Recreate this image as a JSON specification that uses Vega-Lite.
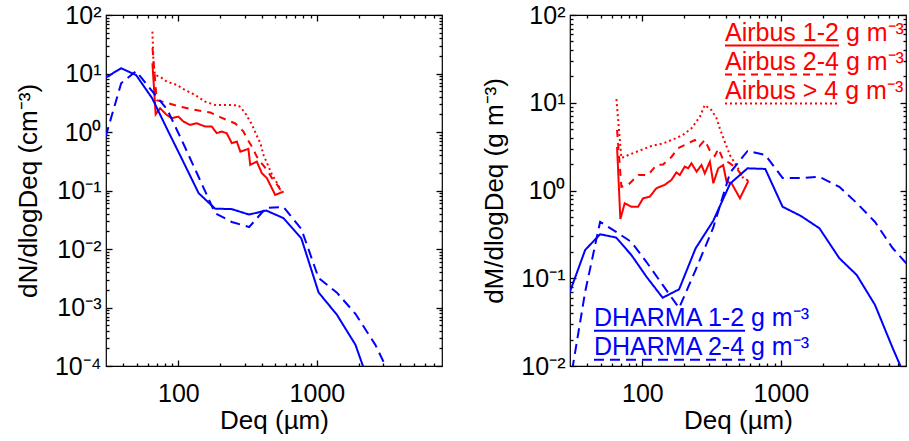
{
  "$schema": "https://vega.github.io/schema/vega-lite/v6.json",
  "padding": {"left": 14, "top": 2, "right": 0, "bottom": 0},
  "background": "white",
  "spacing": 37,
  "config": {
    "font": "Liberation Sans",
    "view": {"stroke": "#000000", "strokeWidth": 1.2},
    "axis": {"grid": false, "domain": false, "ticks": true, "labelFontSize": 25, "titleFontSize": 26, "titleFontWeight": "normal", "labelColor": "#000000", "titleColor": "#000000", "tickColor": "#000000", "tickWidth": 1.3, "tickOpacity": 1, "labelOverlap": false, "labelFlush": false, "labelBound": false, "labelFont": "Liberation Sans", "titleFont": "Liberation Sans"},
    "legend": {"labelFont": "Liberation Sans"}
  },
  "datasets": {
    "leftAirbus": [
      {"D":64.9,"v":15,"s":"Airbus 1-2 g m⁻³"},{"D":68.5,"v":2.01,"s":"Airbus 1-2 g m⁻³"},{"D":73.7,"v":2.55,"s":"Airbus 1-2 g m⁻³"},{"D":82.3,"v":1.96,"s":"Airbus 1-2 g m⁻³"},{"D":89.5,"v":1.72,"s":"Airbus 1-2 g m⁻³"},{"D":100,"v":1.83,"s":"Airbus 1-2 g m⁻³"},{"D":108.7,"v":1.51,"s":"Airbus 1-2 g m⁻³"},{"D":121.5,"v":1.32,"s":"Airbus 1-2 g m⁻³"},{"D":135.6,"v":1.41,"s":"Airbus 1-2 g m⁻³"},{"D":156,"v":1.24,"s":"Airbus 1-2 g m⁻³"},{"D":174,"v":1.24,"s":"Airbus 1-2 g m⁻³"},{"D":189,"v":0.955,"s":"Airbus 1-2 g m⁻³"},{"D":205,"v":1.02,"s":"Airbus 1-2 g m⁻³"},{"D":223,"v":0.955,"s":"Airbus 1-2 g m⁻³"},{"D":243,"v":0.644,"s":"Airbus 1-2 g m⁻³"},{"D":264,"v":0.686,"s":"Airbus 1-2 g m⁻³"},{"D":280,"v":0.462,"s":"Airbus 1-2 g m⁻³"},{"D":320,"v":0.514,"s":"Airbus 1-2 g m⁻³"},{"D":330,"v":0.274,"s":"Airbus 1-2 g m⁻³"},{"D":368,"v":0.312,"s":"Airbus 1-2 g m⁻³"},{"D":400,"v":0.198,"s":"Airbus 1-2 g m⁻³"},{"D":435,"v":0.163,"s":"Airbus 1-2 g m⁻³"},{"D":500,"v":0.084,"s":"Airbus 1-2 g m⁻³"},{"D":575,"v":0.096,"s":"Airbus 1-2 g m⁻³"},
      {"D":65,"v":27,"s":"Airbus 2-4 g m⁻³"},{"D":69.7,"v":3.5,"s":"Airbus 2-4 g m⁻³"},{"D":85,"v":3.1,"s":"Airbus 2-4 g m⁻³"},{"D":100,"v":2.75,"s":"Airbus 2-4 g m⁻³"},{"D":112,"v":2.6,"s":"Airbus 2-4 g m⁻³"},{"D":130,"v":2.4,"s":"Airbus 2-4 g m⁻³"},{"D":150,"v":2.25,"s":"Airbus 2-4 g m⁻³"},{"D":170,"v":2.15,"s":"Airbus 2-4 g m⁻³"},{"D":200,"v":1.8,"s":"Airbus 2-4 g m⁻³"},{"D":223,"v":1.61,"s":"Airbus 2-4 g m⁻³"},{"D":257,"v":1.4,"s":"Airbus 2-4 g m⁻³"},{"D":272,"v":1.24,"s":"Airbus 2-4 g m⁻³"},{"D":295,"v":1.02,"s":"Airbus 2-4 g m⁻³"},{"D":312,"v":0.78,"s":"Airbus 2-4 g m⁻³"},{"D":340,"v":0.56,"s":"Airbus 2-4 g m⁻³"},{"D":368,"v":0.38,"s":"Airbus 2-4 g m⁻³"},{"D":390,"v":0.31,"s":"Airbus 2-4 g m⁻³"},{"D":440,"v":0.22,"s":"Airbus 2-4 g m⁻³"},{"D":473,"v":0.163,"s":"Airbus 2-4 g m⁻³"},{"D":500,"v":0.14,"s":"Airbus 2-4 g m⁻³"},{"D":558,"v":0.095,"s":"Airbus 2-4 g m⁻³"},
      {"D":64.9,"v":52,"s":"Airbus > 4 g m⁻³"},{"D":66,"v":16,"s":"Airbus > 4 g m⁻³"},{"D":67.8,"v":9.4,"s":"Airbus > 4 g m⁻³"},{"D":73.7,"v":8.8,"s":"Airbus > 4 g m⁻³"},{"D":82.3,"v":7.3,"s":"Airbus > 4 g m⁻³"},{"D":97,"v":6.4,"s":"Airbus > 4 g m⁻³"},{"D":112,"v":5.2,"s":"Airbus > 4 g m⁻³"},{"D":132,"v":4.3,"s":"Airbus > 4 g m⁻³"},{"D":156,"v":3.3,"s":"Airbus > 4 g m⁻³"},{"D":184,"v":2.9,"s":"Airbus > 4 g m⁻³"},{"D":230,"v":2.9,"s":"Airbus > 4 g m⁻³"},{"D":272,"v":2.85,"s":"Airbus > 4 g m⁻³"},{"D":300,"v":2.2,"s":"Airbus > 4 g m⁻³"},{"D":320,"v":1.7,"s":"Airbus > 4 g m⁻³"},{"D":339,"v":1.35,"s":"Airbus > 4 g m⁻³"},{"D":365,"v":0.9,"s":"Airbus > 4 g m⁻³"},{"D":390,"v":0.65,"s":"Airbus > 4 g m⁻³"},{"D":412,"v":0.4,"s":"Airbus > 4 g m⁻³"},{"D":440,"v":0.28,"s":"Airbus > 4 g m⁻³"},{"D":473,"v":0.19,"s":"Airbus > 4 g m⁻³"},{"D":510,"v":0.14,"s":"Airbus > 4 g m⁻³"},{"D":550,"v":0.1,"s":"Airbus > 4 g m⁻³"}
    ],
    "leftDharma": [
      {"D":29.8,"v":8.5,"s":"DHARMA 1-2 g m⁻³"},{"D":38.6,"v":12.3,"s":"DHARMA 1-2 g m⁻³"},{"D":49.5,"v":9.4,"s":"DHARMA 1-2 g m⁻³"},{"D":64.6,"v":3.78,"s":"DHARMA 1-2 g m⁻³"},{"D":83.2,"v":1.1,"s":"DHARMA 1-2 g m⁻³"},{"D":107,"v":0.33,"s":"DHARMA 1-2 g m⁻³"},{"D":140,"v":0.09,"s":"DHARMA 1-2 g m⁻³"},{"D":184,"v":0.049,"s":"DHARMA 1-2 g m⁻³"},{"D":243,"v":0.048,"s":"DHARMA 1-2 g m⁻³"},{"D":324,"v":0.0388,"s":"DHARMA 1-2 g m⁻³"},{"D":430,"v":0.0455,"s":"DHARMA 1-2 g m⁻³"},{"D":574,"v":0.0337,"s":"DHARMA 1-2 g m⁻³"},{"D":771,"v":0.0153,"s":"DHARMA 1-2 g m⁻³"},{"D":1028,"v":0.00181,"s":"DHARMA 1-2 g m⁻³"},{"D":1395,"v":0.00075,"s":"DHARMA 1-2 g m⁻³"},{"D":1897,"v":0.000231,"s":"DHARMA 1-2 g m⁻³"},{"D":2642,"v":0.000025,"s":"DHARMA 1-2 g m⁻³"},
      {"D":29.8,"v":0.83,"s":"DHARMA 2-4 g m⁻³"},{"D":38.6,"v":6.8,"s":"DHARMA 2-4 g m⁻³"},{"D":49.5,"v":11,"s":"DHARMA 2-4 g m⁻³"},{"D":64.6,"v":5,"s":"DHARMA 2-4 g m⁻³"},{"D":83.2,"v":2.4,"s":"DHARMA 2-4 g m⁻³"},{"D":107,"v":0.68,"s":"DHARMA 2-4 g m⁻³"},{"D":140,"v":0.17,"s":"DHARMA 2-4 g m⁻³"},{"D":184,"v":0.041,"s":"DHARMA 2-4 g m⁻³"},{"D":243,"v":0.029,"s":"DHARMA 2-4 g m⁻³"},{"D":324,"v":0.0237,"s":"DHARMA 2-4 g m⁻³"},{"D":430,"v":0.0506,"s":"DHARMA 2-4 g m⁻³"},{"D":574,"v":0.052,"s":"DHARMA 2-4 g m⁻³"},{"D":771,"v":0.0221,"s":"DHARMA 2-4 g m⁻³"},{"D":1028,"v":0.0032,"s":"DHARMA 2-4 g m⁻³"},{"D":1395,"v":0.00179,"s":"DHARMA 2-4 g m⁻³"},{"D":1897,"v":0.00078,"s":"DHARMA 2-4 g m⁻³"},{"D":2642,"v":0.00023,"s":"DHARMA 2-4 g m⁻³"},{"D":3525,"v":0.000056,"s":"DHARMA 2-4 g m⁻³"}
    ],
    "rightAirbus": [
      {"D":65.6,"v":3.13,"s":"Airbus 1-2 g m⁻³"},{"D":69.3,"v":0.473,"s":"Airbus 1-2 g m⁻³"},{"D":74.5,"v":0.715,"s":"Airbus 1-2 g m⁻³"},{"D":83.3,"v":0.653,"s":"Airbus 1-2 g m⁻³"},{"D":93.1,"v":0.653,"s":"Airbus 1-2 g m⁻³"},{"D":101,"v":0.815,"s":"Airbus 1-2 g m⁻³"},{"D":113,"v":0.85,"s":"Airbus 1-2 g m⁻³"},{"D":126,"v":1.06,"s":"Airbus 1-2 g m⁻³"},{"D":145,"v":1.16,"s":"Airbus 1-2 g m⁻³"},{"D":162,"v":1.32,"s":"Airbus 1-2 g m⁻³"},{"D":176,"v":1.61,"s":"Airbus 1-2 g m⁻³"},{"D":186,"v":1.5,"s":"Airbus 1-2 g m⁻³"},{"D":202,"v":1.87,"s":"Airbus 1-2 g m⁻³"},{"D":214,"v":1.79,"s":"Airbus 1-2 g m⁻³"},{"D":226,"v":2.04,"s":"Airbus 1-2 g m⁻³"},{"D":246,"v":1.64,"s":"Airbus 1-2 g m⁻³"},{"D":267,"v":1.95,"s":"Airbus 1-2 g m⁻³"},{"D":282,"v":1.57,"s":"Airbus 1-2 g m⁻³"},{"D":307,"v":2.13,"s":"Airbus 1-2 g m⁻³"},{"D":325,"v":1.21,"s":"Airbus 1-2 g m⁻³"},{"D":353,"v":1.79,"s":"Airbus 1-2 g m⁻³"},{"D":383,"v":1.95,"s":"Airbus 1-2 g m⁻³"},{"D":405,"v":1.26,"s":"Airbus 1-2 g m⁻³"},{"D":440,"v":1.21,"s":"Airbus 1-2 g m⁻³"},{"D":506,"v":0.815,"s":"Airbus 1-2 g m⁻³"},{"D":581,"v":1.28,"s":"Airbus 1-2 g m⁻³"},
      {"D":65.6,"v":4.89,"s":"Airbus 2-4 g m⁻³"},{"D":70.5,"v":1.1,"s":"Airbus 2-4 g m⁻³"},{"D":78.8,"v":1.16,"s":"Airbus 2-4 g m⁻³"},{"D":93.5,"v":1.5,"s":"Airbus 2-4 g m⁻³"},{"D":110,"v":1.5,"s":"Airbus 2-4 g m⁻³"},{"D":126,"v":1.95,"s":"Airbus 2-4 g m⁻³"},{"D":141,"v":1.98,"s":"Airbus 2-4 g m⁻³"},{"D":162,"v":2.41,"s":"Airbus 2-4 g m⁻³"},{"D":181,"v":3.03,"s":"Airbus 2-4 g m⁻³"},{"D":214,"v":3.45,"s":"Airbus 2-4 g m⁻³"},{"D":239,"v":3.76,"s":"Airbus 2-4 g m⁻³"},{"D":258,"v":3.21,"s":"Airbus 2-4 g m⁻³"},{"D":282,"v":3.76,"s":"Airbus 2-4 g m⁻³"},{"D":305,"v":2.9,"s":"Airbus 2-4 g m⁻³"},{"D":333,"v":2.47,"s":"Airbus 2-4 g m⁻³"},{"D":354,"v":3,"s":"Airbus 2-4 g m⁻³"},{"D":380,"v":2.3,"s":"Airbus 2-4 g m⁻³"},{"D":428,"v":2.04,"s":"Airbus 2-4 g m⁻³"},{"D":478,"v":1.79,"s":"Airbus 2-4 g m⁻³"},{"D":519,"v":1.5,"s":"Airbus 2-4 g m⁻³"},{"D":581,"v":1.28,"s":"Airbus 2-4 g m⁻³"},
      {"D":64.9,"v":11,"s":"Airbus > 4 g m⁻³"},{"D":70.5,"v":2.34,"s":"Airbus > 4 g m⁻³"},{"D":79.2,"v":2.54,"s":"Airbus > 4 g m⁻³"},{"D":98.3,"v":2.9,"s":"Airbus > 4 g m⁻³"},{"D":116,"v":3.21,"s":"Airbus > 4 g m⁻³"},{"D":142,"v":3.45,"s":"Airbus > 4 g m⁻³"},{"D":173,"v":3.92,"s":"Airbus > 4 g m⁻³"},{"D":198,"v":4.35,"s":"Airbus > 4 g m⁻³"},{"D":226,"v":5.11,"s":"Airbus > 4 g m⁻³"},{"D":260,"v":6.93,"s":"Airbus > 4 g m⁻³"},{"D":282,"v":9.43,"s":"Airbus > 4 g m⁻³"},{"D":315,"v":8.26,"s":"Airbus > 4 g m⁻³"},{"D":343,"v":6.65,"s":"Airbus > 4 g m⁻³"},{"D":362,"v":5.11,"s":"Airbus > 4 g m⁻³"},{"D":393,"v":3.6,"s":"Airbus > 4 g m⁻³"},{"D":428,"v":2.54,"s":"Airbus > 4 g m⁻³"},{"D":466,"v":2.04,"s":"Airbus > 4 g m⁻³"},{"D":506,"v":1.64,"s":"Airbus > 4 g m⁻³"},{"D":534,"v":1.38,"s":"Airbus > 4 g m⁻³"}
    ],
    "rightDharma": [
      {"D":29.8,"v":0.0684,"s":"DHARMA 1-2 g m⁻³"},{"D":38.6,"v":0.21,"s":"DHARMA 1-2 g m⁻³"},{"D":49.5,"v":0.317,"s":"DHARMA 1-2 g m⁻³"},{"D":64.6,"v":0.291,"s":"DHARMA 1-2 g m⁻³"},{"D":83.2,"v":0.184,"s":"DHARMA 1-2 g m⁻³"},{"D":107,"v":0.104,"s":"DHARMA 1-2 g m⁻³"},{"D":140,"v":0.06,"s":"DHARMA 1-2 g m⁻³"},{"D":184,"v":0.0748,"s":"DHARMA 1-2 g m⁻³"},{"D":242,"v":0.219,"s":"DHARMA 1-2 g m⁻³"},{"D":324,"v":0.449,"s":"DHARMA 1-2 g m⁻³"},{"D":430,"v":1.2,"s":"DHARMA 1-2 g m⁻³"},{"D":574,"v":1.79,"s":"DHARMA 1-2 g m⁻³"},{"D":771,"v":1.76,"s":"DHARMA 1-2 g m⁻³"},{"D":1028,"v":0.653,"s":"DHARMA 1-2 g m⁻³"},{"D":1395,"v":0.512,"s":"DHARMA 1-2 g m⁻³"},{"D":1897,"v":0.371,"s":"DHARMA 1-2 g m⁻³"},{"D":2642,"v":0.169,"s":"DHARMA 1-2 g m⁻³"},{"D":3525,"v":0.109,"s":"DHARMA 1-2 g m⁻³"},{"D":4780,"v":0.0496,"s":"DHARMA 1-2 g m⁻³"},{"D":6400,"v":0.0161,"s":"DHARMA 1-2 g m⁻³"},{"D":8600,"v":0.0055,"s":"DHARMA 1-2 g m⁻³"},
      {"D":29.8,"v":0.006,"s":"DHARMA 2-4 g m⁻³"},{"D":38.6,"v":0.07,"s":"DHARMA 2-4 g m⁻³"},{"D":49.5,"v":0.44,"s":"DHARMA 2-4 g m⁻³"},{"D":64.6,"v":0.337,"s":"DHARMA 2-4 g m⁻³"},{"D":83.2,"v":0.259,"s":"DHARMA 2-4 g m⁻³"},{"D":107,"v":0.153,"s":"DHARMA 2-4 g m⁻³"},{"D":140,"v":0.084,"s":"DHARMA 2-4 g m⁻³"},{"D":184,"v":0.0458,"s":"DHARMA 2-4 g m⁻³"},{"D":242,"v":0.124,"s":"DHARMA 2-4 g m⁻³"},{"D":324,"v":0.374,"s":"DHARMA 2-4 g m⁻³"},{"D":430,"v":1.6,"s":"DHARMA 2-4 g m⁻³"},{"D":574,"v":2.82,"s":"DHARMA 2-4 g m⁻³"},{"D":771,"v":2.54,"s":"DHARMA 2-4 g m⁻³"},{"D":1028,"v":1.39,"s":"DHARMA 2-4 g m⁻³"},{"D":1395,"v":1.39,"s":"DHARMA 2-4 g m⁻³"},{"D":1897,"v":1.43,"s":"DHARMA 2-4 g m⁻³"},{"D":2642,"v":1.1,"s":"DHARMA 2-4 g m⁻³"},{"D":3525,"v":0.72,"s":"DHARMA 2-4 g m⁻³"},{"D":4780,"v":0.438,"s":"DHARMA 2-4 g m⁻³"},{"D":6400,"v":0.221,"s":"DHARMA 2-4 g m⁻³"},{"D":8600,"v":0.131,"s":"DHARMA 2-4 g m⁻³"}
    ]
  },
  "hconcat": [
    {
      "width": 336, "height": 351,
      "layer": [
        {
          "data": {"name": "leftAirbus"},
          "mark": {"type": "line", "color": "#ff0000", "strokeWidth": 2, "clip": true},
          "encoding": {
            "x": {"field": "D", "type": "quantitative", "scale": {"type": "log", "domain": [30, 8000], "nice": false}, "axis": {"orient": "bottom", "values": [100, 1000], "offset": -6, "tickSize": 6, "labelPadding": 15, "labelExpr": "datum.value == 100 ? '100' : '1000'", "title": "Deq (µm)", "titlePadding": 1}},
            "y": {"field": "v", "type": "quantitative", "scale": {"type": "log", "domain": [0.0001, 100], "nice": false}, "axis": {"orient": "left", "values": [0.0001, 0.001, 0.01, 0.1, 1, 10, 100], "offset": -6, "tickSize": 6, "labelPadding": 5, "labelExpr": "datum.value == 100 ? '10²' : datum.value == 10 ? '10¹' : datum.value == 1 ? '10⁰' : datum.value == 0.1 ? '10⁻¹' : datum.value == 0.01 ? '10⁻²' : datum.value == 0.001 ? '10⁻³' : '10⁻⁴'", "title": "dN/dlogDeq (cm⁻³)", "titlePadding": 13}},
            "strokeDash": {"field": "s", "type": "nominal", "scale": {"domain": ["Airbus 1-2 g m⁻³", "Airbus 2-4 g m⁻³", "Airbus > 4 g m⁻³"], "range": [[1, 0], [7, 6], [2, 3]]}, "legend": null}
          }
        },
        {
          "data": {"name": "leftDharma"},
          "mark": {"type": "line", "color": "#0000ff", "strokeWidth": 2, "clip": true},
          "encoding": {
            "x": {"field": "D", "type": "quantitative", "axis": {"orient": "top", "values": [100, 1000], "offset": -6, "tickSize": 6, "labels": false, "title": null}},
            "y": {"field": "v", "type": "quantitative", "axis": {"orient": "right", "values": [0.0001, 0.001, 0.01, 0.1, 1, 10, 100], "offset": -6, "tickSize": 6, "labels": false, "title": null}},
            "strokeDash": {"field": "s", "type": "nominal", "scale": {"domain": ["DHARMA 1-2 g m⁻³", "DHARMA 2-4 g m⁻³"], "range": [[1, 0], [10, 6]]}, "legend": null}
          }
        },
        {
          "data": {"name": "leftDharma"},
          "mark": {"type": "line", "opacity": 0, "clip": true},
          "encoding": {
            "x": {"field": "D", "type": "quantitative", "axis": {"orient": "bottom", "values": [40, 50, 60, 70, 80, 90, 200, 300, 400, 500, 600, 700, 800, 900, 2000, 3000, 4000, 5000, 6000, 7000], "offset": -3, "tickSize": 3, "labels": false, "title": null}},
            "y": {"field": "v", "type": "quantitative", "axis": {"orient": "left", "values": [0.0002, 0.0003, 0.0004, 0.0005, 0.0006, 0.0007, 0.0008, 0.0009, 0.002, 0.003, 0.004, 0.005, 0.006, 0.007, 0.008, 0.009, 0.02, 0.03, 0.04, 0.05, 0.06, 0.07, 0.08, 0.09, 0.2, 0.3, 0.4, 0.5, 0.6, 0.7, 0.8, 0.9, 2, 3, 4, 5, 6, 7, 8, 9, 20, 30, 40, 50, 60, 70, 80, 90], "offset": -3, "tickSize": 3, "labels": false, "title": null}},
            "detail": {"field": "s", "type": "nominal"}
          }
        },
        {
          "data": {"name": "leftDharma"},
          "mark": {"type": "line", "opacity": 0, "clip": true},
          "encoding": {
            "x": {"field": "D", "type": "quantitative", "axis": {"orient": "top", "values": [40, 50, 60, 70, 80, 90, 200, 300, 400, 500, 600, 700, 800, 900, 2000, 3000, 4000, 5000, 6000, 7000], "offset": -3, "tickSize": 3, "labels": false, "title": null}},
            "y": {"field": "v", "type": "quantitative", "axis": {"orient": "right", "values": [0.0002, 0.0003, 0.0004, 0.0005, 0.0006, 0.0007, 0.0008, 0.0009, 0.002, 0.003, 0.004, 0.005, 0.006, 0.007, 0.008, 0.009, 0.02, 0.03, 0.04, 0.05, 0.06, 0.07, 0.08, 0.09, 0.2, 0.3, 0.4, 0.5, 0.6, 0.7, 0.8, 0.9, 2, 3, 4, 5, 6, 7, 8, 9, 20, 30, 40, 50, 60, 70, 80, 90], "offset": -3, "tickSize": 3, "labels": false, "title": null}},
            "detail": {"field": "s", "type": "nominal"}
          }
        }
      ],
      "resolve": {"scale": {"strokeDash": "independent"}, "axis": {"x": "independent", "y": "independent"}, "legend": {"strokeDash": "independent"}}
    },
    {
      "width": 336, "height": 351,
      "layer": [
        {
          "data": {"name": "rightAirbus"},
          "mark": {"type": "line", "color": "#ff0000", "strokeWidth": 2, "clip": true},
          "encoding": {
            "x": {"field": "D", "type": "quantitative", "scale": {"type": "log", "domain": [30, 8000], "nice": false}, "axis": {"orient": "bottom", "values": [100, 1000], "offset": -6, "tickSize": 6, "labelPadding": 15, "labelExpr": "datum.value == 100 ? '100' : '1000'", "title": "Deq (µm)", "titlePadding": 1}},
            "y": {"field": "v", "type": "quantitative", "scale": {"type": "log", "domain": [0.01, 100], "nice": false}, "axis": {"orient": "left", "values": [0.01, 0.1, 1, 10, 100], "offset": -6, "tickSize": 6, "labelPadding": 5, "labelExpr": "datum.value == 100 ? '10²' : datum.value == 10 ? '10¹' : datum.value == 1 ? '10⁰' : datum.value == 0.1 ? '10⁻¹' : '10⁻²'", "title": "dM/dlogDeq (g m⁻³)", "titlePadding": 13}},
            "strokeDash": {"field": "s", "type": "nominal", "scale": {"domain": ["Airbus 1-2 g m⁻³", "Airbus 2-4 g m⁻³", "Airbus > 4 g m⁻³"], "range": [[1, 0], [7, 6], [2, 3]]},
              "legend": {"orient": "none", "legendX": 142.5, "legendY": 13.5, "title": null, "symbolType": "M0,0.9L22.8,0.9", "symbolSize": 100, "symbolStrokeColor": "#ff0000", "symbolStrokeWidth": 2, "symbolFillColor": "transparent", "labelFontSize": 25, "labelColor": "#ff0000", "labelLimit": 600, "labelOffset": -12.5, "labelBaseline": "alphabetic", "rowPadding": 0, "padding": 0}}
          }
        },
        {
          "data": {"name": "rightDharma"},
          "mark": {"type": "line", "color": "#0000ff", "strokeWidth": 2, "clip": true},
          "encoding": {
            "x": {"field": "D", "type": "quantitative", "axis": {"orient": "top", "values": [100, 1000], "offset": -6, "tickSize": 6, "labels": false, "title": null}},
            "y": {"field": "v", "type": "quantitative", "axis": {"orient": "right", "values": [0.01, 0.1, 1, 10, 100], "offset": -6, "tickSize": 6, "labels": false, "title": null}},
            "strokeDash": {"field": "s", "type": "nominal", "scale": {"domain": ["DHARMA 1-2 g m⁻³", "DHARMA 2-4 g m⁻³"], "range": [[1, 0], [10, 6]]},
              "legend": {"orient": "none", "legendX": 11.5, "legendY": 298.8, "title": null, "symbolType": "M0,0.9L30.2,0.9", "symbolSize": 100, "symbolStrokeColor": "#0000ff", "symbolStrokeWidth": 2, "symbolFillColor": "transparent", "labelFontSize": 25, "labelColor": "#0000ff", "labelLimit": 600, "labelOffset": -12.5, "labelBaseline": "alphabetic", "rowPadding": 0, "padding": 0}}
          }
        },
        {
          "data": {"name": "rightDharma"},
          "mark": {"type": "line", "opacity": 0, "clip": true},
          "encoding": {
            "x": {"field": "D", "type": "quantitative", "axis": {"orient": "bottom", "values": [40, 50, 60, 70, 80, 90, 200, 300, 400, 500, 600, 700, 800, 900, 2000, 3000, 4000, 5000, 6000, 7000], "offset": -3, "tickSize": 3, "labels": false, "title": null}},
            "y": {"field": "v", "type": "quantitative", "axis": {"orient": "left", "values": [0.02, 0.03, 0.04, 0.05, 0.06, 0.07, 0.08, 0.09, 0.2, 0.3, 0.4, 0.5, 0.6, 0.7, 0.8, 0.9, 2, 3, 4, 5, 6, 7, 8, 9, 20, 30, 40, 50, 60, 70, 80, 90], "offset": -3, "tickSize": 3, "labels": false, "title": null}},
            "detail": {"field": "s", "type": "nominal"}
          }
        },
        {
          "data": {"name": "rightDharma"},
          "mark": {"type": "line", "opacity": 0, "clip": true},
          "encoding": {
            "x": {"field": "D", "type": "quantitative", "axis": {"orient": "top", "values": [40, 50, 60, 70, 80, 90, 200, 300, 400, 500, 600, 700, 800, 900, 2000, 3000, 4000, 5000, 6000, 7000], "offset": -3, "tickSize": 3, "labels": false, "title": null}},
            "y": {"field": "v", "type": "quantitative", "axis": {"orient": "right", "values": [0.02, 0.03, 0.04, 0.05, 0.06, 0.07, 0.08, 0.09, 0.2, 0.3, 0.4, 0.5, 0.6, 0.7, 0.8, 0.9, 2, 3, 4, 5, 6, 7, 8, 9, 20, 30, 40, 50, 60, 70, 80, 90], "offset": -3, "tickSize": 3, "labels": false, "title": null}},
            "detail": {"field": "s", "type": "nominal"}
          }
        }
      ],
      "resolve": {"scale": {"strokeDash": "independent"}, "axis": {"x": "independent", "y": "independent"}, "legend": {"strokeDash": "independent"}}
    }
  ],
  "resolve": {"scale": {"x": "independent", "y": "independent", "strokeDash": "independent"}, "axis": {"x": "independent", "y": "independent"}, "legend": {"strokeDash": "independent"}}
}
